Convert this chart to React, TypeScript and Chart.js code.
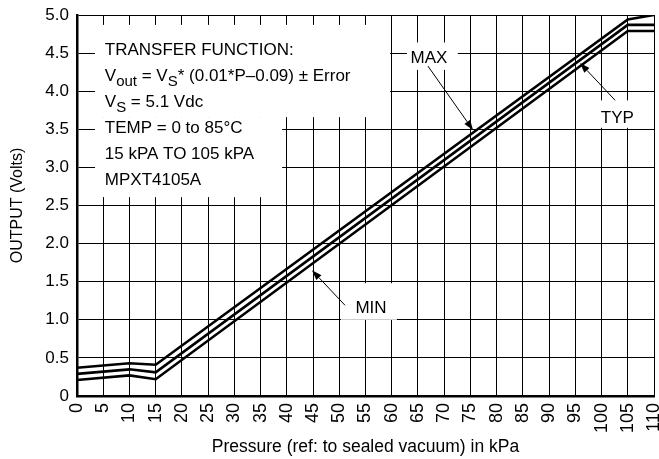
import React, { useEffect, useRef } from 'react';
import { Chart, registerables } from 'chart.js';

Chart.register(...registerables);

// ---- Data ----
const pressureKPa = [0, 10, 15, 105, 110];
const maxOutput = [0.37, 0.43, 0.41, 4.94, 5.0];
const typOutput = [0.29, 0.35, 0.31, 4.87, 4.87];
const minOutput = [0.21, 0.27, 0.22, 4.79, 4.79];

const xTitle = 'Pressure (ref: to sealed vacuum) in kPa';
const yTitle = 'OUTPUT (Volts)';

// Info box text lines (segments; sub = subscript)
const infoLines = [
  [{ t: 'TRANSFER FUNCTION:' }],
  [{ t: 'V' }, { t: 'out', sub: true }, { t: ' = V' }, { t: 'S', sub: true }, { t: '* (0.01*P–0.09) ± Error' }],
  [{ t: 'V' }, { t: 'S', sub: true }, { t: ' = 5.1 Vdc' }],
  [{ t: 'TEMP = 0 to 85°C' }],
  [{ t: '15 kPA TO 105 kPA' }],
  [{ t: 'MPXT4105A' }],
];
// anchor in data units (kPa, Volts) for the info text's first baseline
const infoAnchor = [5.3, 4.475];

// White knock-out areas [x1, x2, y1, y2] in data units
const whiteBoxes = [
  [3.43, 59.7, 4.87, 3.66],
  [3.43, 39.1, 3.66, 2.61],
  [62.9, 72.6, 4.64, 4.28],
  [99.1, 107.3, 3.88, 3.52],
  [50.3, 61.0, 1.48, 1.0],
];

// Callout labels: text, x centre, baseline y (data units)
const callouts = [
  { text: 'MAX', x: 67.1, y: 4.37, from: [66.9, 4.33], to: [75.5, 3.49] },
  { text: 'TYP', x: 103.0, y: 3.58, from: [102.6, 3.88], to: [95.9, 4.37] },
  { text: 'MIN', x: 56.05, y: 1.09, from: [51.1, 1.19], to: [44.8, 1.65] },
];

const FONT = "'Liberation Sans', Arial, Helvetica, sans-serif";

function toPoints(ys: number[]) {
  return pressureKPa.map((p, i) => ({ x: p, y: ys[i] }));
}

const annotPlugin = {
  id: 'annot',
  beforeDatasetsDraw(chart: any) {
    const { ctx, scales } = chart;
    const xs = scales.x, ys = scales.y;
    ctx.save();
    ctx.fillStyle = '#ffffff';
    for (const b of whiteBoxes) {
      const x1 = xs.getPixelForValue(b[0]);
      const x2 = xs.getPixelForValue(b[1]);
      const y1 = ys.getPixelForValue(b[2]);
      const y2 = ys.getPixelForValue(b[3]);
      ctx.fillRect(Math.min(x1, x2), Math.min(y1, y2), Math.abs(x2 - x1), Math.abs(y2 - y1));
    }
    ctx.restore();
  },
  afterDatasetsDraw(chart: any) {
    const { ctx, scales } = chart;
    const xs = scales.x, ys = scales.y;
    ctx.save();
    ctx.fillStyle = '#000';
    ctx.strokeStyle = '#000';
    ctx.textBaseline = 'alphabetic';
    // info text
    const ax = xs.getPixelForValue(infoAnchor[0]);
    let by = ys.getPixelForValue(infoAnchor[1]);
    for (const line of infoLines) {
      let cx = ax;
      for (const seg of line as any[]) {
        ctx.textAlign = 'left';
        if (seg.sub) {
          ctx.font = `15px ${FONT}`;
          ctx.fillText(seg.t, cx, by + 5);
        } else {
          ctx.font = `17px ${FONT}`;
          ctx.fillText(seg.t, cx, by);
        }
        cx += ctx.measureText(seg.t).width;
      }
      by += 26;
    }
    // callouts
    for (const c of callouts) {
      ctx.font = `17px ${FONT}`;
      ctx.textAlign = 'center';
      ctx.fillText(c.text, xs.getPixelForValue(c.x), ys.getPixelForValue(c.y));
      const fx = xs.getPixelForValue(c.from[0]);
      const fy = ys.getPixelForValue(c.from[1]);
      const tx = xs.getPixelForValue(c.to[0]);
      const ty = ys.getPixelForValue(c.to[1]);
      const ang = Math.atan2(ty - fy, tx - fx);
      const hl = 10, hw = 3.5;
      const bx = tx - hl * Math.cos(ang);
      const byy = ty - hl * Math.sin(ang);
      ctx.lineWidth = 1;
      ctx.beginPath();
      ctx.moveTo(fx, fy);
      ctx.lineTo(bx, byy);
      ctx.stroke();
      ctx.beginPath();
      ctx.moveTo(tx, ty);
      ctx.lineTo(bx + hw * Math.sin(ang), byy - hw * Math.cos(ang));
      ctx.lineTo(bx - hw * Math.sin(ang), byy + hw * Math.cos(ang));
      ctx.closePath();
      ctx.fill();
    }
    ctx.restore();
  },
};

export default function App() {
  const canvasRef = useRef<HTMLCanvasElement | null>(null);

  useEffect(() => {
    const canvas = canvasRef.current;
    if (!canvas) return;
    const lineDs = (label: string, data: number[]) => ({
      label,
      data: toPoints(data),
      borderColor: '#000',
      borderWidth: 2.6,
      pointRadius: 0,
      fill: false,
      tension: 0,
      borderJoinStyle: 'miter' as const,
    });
    const chart = new Chart(canvas, {
      type: 'line',
      data: {
        datasets: [lineDs('MAX', maxOutput), lineDs('TYP', typOutput), lineDs('MIN', minOutput)],
      },
      options: {
        animation: false,
        responsive: false,
        maintainAspectRatio: false,
        devicePixelRatio: 1,
        layout: { padding: { top: 15, right: 5, left: 0, bottom: 0 } },
        plugins: {
          legend: { display: false },
          tooltip: { enabled: false },
        },
        scales: {
          x: {
            type: 'linear',
            min: 0,
            max: 110,
            ticks: {
              stepSize: 5,
              autoSkip: false,
              minRotation: 90,
              maxRotation: 90,
              padding: 7,
              color: '#000',
              font: { size: 18, family: FONT },
              callback: (v: any) => String(v),
            },
            grid: { color: '#000', lineWidth: 1, drawTicks: false },
            border: { color: '#000', width: 2.5 },
            title: {
              display: true,
              text: xTitle,
              color: '#000',
              font: { size: 17.5, family: FONT },
              padding: { top: 0, bottom: 1 },
            },
            afterFit: (s: any) => {
              s.height = 63;
              s.paddingRight = 5;
              s.paddingLeft = 0;
            },
          },
          y: {
            type: 'linear',
            min: 0,
            max: 5,
            ticks: {
              stepSize: 0.5,
              padding: 8,
              color: '#000',
              font: { size: 17, family: FONT },
              callback: (v: any) => (Number(v) === 0 ? '0' : Number(v).toFixed(1)),
            },
            grid: { color: '#000', lineWidth: 1, drawTicks: false },
            border: { color: '#000', width: 2.5 },
            title: {
              display: true,
              text: yTitle,
              color: '#000',
              font: { size: 16, family: FONT },
              padding: { top: 8, bottom: 0 },
            },
            afterFit: (s: any) => {
              s.width = 77;
              s.paddingTop = 0;
              s.paddingBottom = 0;
            },
          },
        },
      },
      plugins: [annotPlugin],
    });
    return () => chart.destroy();
  }, []);

  return (
    <div style={{ position: 'fixed', left: 0, top: 0, width: 659, height: 459, background: '#fff' }}>
      <canvas ref={canvasRef} width={659} height={459} style={{ display: 'block' }} />
    </div>
  );
}
